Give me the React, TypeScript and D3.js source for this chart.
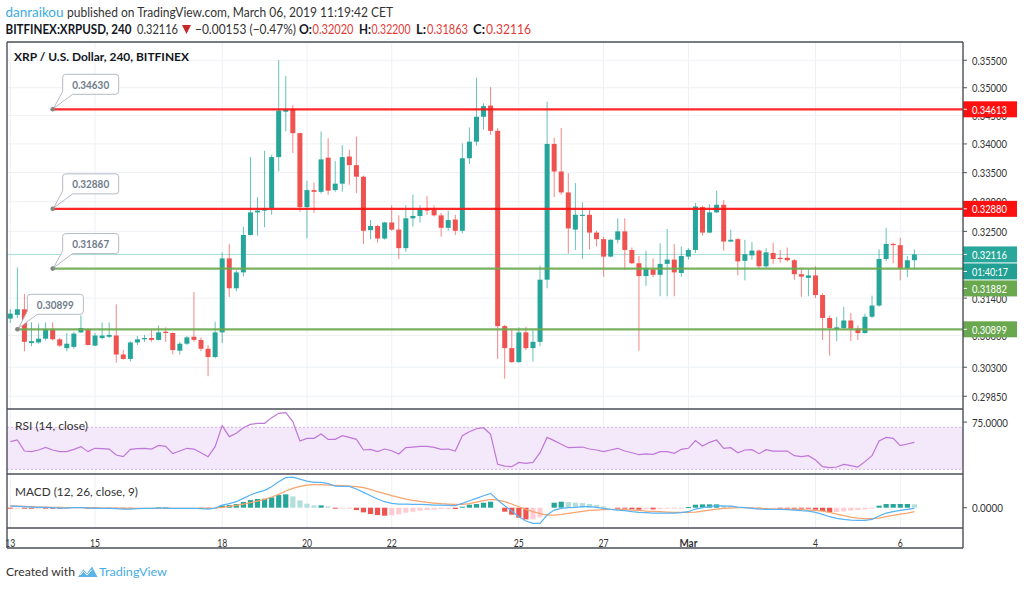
import React from 'react';
import * as d3 from 'd3';

// ---------- DATA ----------
const T0 = Date.UTC(2019, 1, 13, 0, 0);
const BAR_MS = 4 * 3600 * 1000;

const opens = [0.3107,0.3113,0.3122,0.3068,0.3069,0.3075,0.3090,0.3074,0.3060,0.3062,
 0.3085,0.3090,0.3064,0.3076,0.3078,0.3080,0.3050,0.3043,0.3069,0.3074,
 0.3076,0.3073,0.3086,0.3084,0.3056,0.3067,0.3078,0.3073,0.3059,0.3046,
 0.3085,0.3205,0.3156,0.3182,0.3244,0.3282,0.3285,0.3289,0.3377,0.3457,
 0.3461,0.3419,0.3291,0.3320,0.3317,0.3376,0.3320,0.3331,0.3378,0.3363,
 0.3343,0.3252,0.3259,0.3238,0.3265,0.3253,0.3222,0.3272,0.3276,0.3288,
 0.3287,0.3277,0.3256,0.3270,0.3251,0.3375,0.3404,0.3448,0.3468,0.3423,
 0.3095,0.3060,0.3038,0.3085,0.3060,0.3070,0.3170,0.3400,0.3352,0.3316,
 0.3253,0.3276,0.3278,0.3248,0.3237,0.3208,0.3236,0.3250,0.3219,0.3197,
 0.3176,0.3187,0.3178,0.3196,0.3203,0.3181,0.3208,0.3219,0.3291,0.3248,
 0.3282,0.3295,0.3233,0.3237,0.3201,0.3210,0.3218,0.3192,0.3214,0.3206,
 0.3206,0.3202,0.3179,0.3173,0.3177,0.3145,0.3108,0.3090,0.3092,0.3104,
 0.3091,0.3084,0.3110,0.3128,0.3204,0.3229,0.3227,0.3189,0.3202];

const highs = [0.3122,0.3190,0.3147,0.3101,0.3099,0.3101,0.3101,0.3076,0.3084,0.3086,
 0.3112,0.3091,0.3084,0.3101,0.3101,0.3130,0.3057,0.3071,0.3079,0.3081,
 0.3089,0.3096,0.3093,0.3085,0.3070,0.3079,0.3150,0.3077,0.3065,0.3102,
 0.3215,0.3229,0.3186,0.3258,0.3377,0.3308,0.3388,0.3381,0.3550,0.3521,
 0.3469,0.3420,0.3336,0.3333,0.3422,0.3410,0.3370,0.3398,0.3390,0.3413,
 0.3345,0.3269,0.3261,0.3266,0.3294,0.3277,0.3294,0.3312,0.3294,0.3310,
 0.3294,0.3281,0.3285,0.3278,0.3401,0.3429,0.3518,0.3472,0.3501,0.3428,
 0.3097,0.3090,0.3093,0.3094,0.3089,0.3193,0.3475,0.3411,0.3428,0.3349,
 0.3332,0.3299,0.3286,0.3251,0.3241,0.3237,0.3272,0.3272,0.3223,0.3209,
 0.3218,0.3205,0.3230,0.3254,0.3229,0.3225,0.3222,0.3298,0.3293,0.3296,
 0.3319,0.3303,0.3253,0.3239,0.3236,0.3232,0.3220,0.3222,0.3231,0.3219,
 0.3223,0.3204,0.3190,0.3187,0.3192,0.3148,0.3112,0.3110,0.3126,0.3116,
 0.3096,0.3115,0.3144,0.3220,0.3256,0.3231,0.3239,0.3209,0.3220];

const lows = [0.3100,0.3108,0.3055,0.3063,0.3067,0.3072,0.3072,0.3062,0.3055,0.3059,
 0.3084,0.3064,0.3063,0.3074,0.3076,0.3037,0.3042,0.3039,0.3065,0.3070,
 0.3070,0.3072,0.3070,0.3050,0.3050,0.3065,0.3070,0.3055,0.3016,0.3044,
 0.3068,0.3142,0.3151,0.3175,0.3243,0.3243,0.3257,0.3278,0.3352,0.3422,
 0.3384,0.3283,0.3238,0.3281,0.3314,0.3312,0.3317,0.3317,0.3329,0.3315,
 0.3229,0.3237,0.3231,0.3236,0.3251,0.3204,0.3216,0.3258,0.3265,0.3278,
 0.3275,0.3241,0.3251,0.3244,0.3247,0.3365,0.3397,0.3425,0.3416,0.3043,
 0.3012,0.3037,0.3037,0.3057,0.3039,0.3063,0.3156,0.3308,0.3312,0.3213,
 0.3219,0.3204,0.3220,0.3225,0.3175,0.3207,0.3230,0.3186,0.3196,0.3056,
 0.3160,0.3174,0.3143,0.3143,0.3143,0.3175,0.3203,0.3214,0.3243,0.3247,
 0.3281,0.3218,0.3232,0.3177,0.3169,0.3203,0.3188,0.3189,0.3196,0.3198,
 0.3200,0.3170,0.3142,0.3143,0.3140,0.3073,0.3048,0.3071,0.3089,0.3071,
 0.3073,0.3083,0.3108,0.3126,0.3200,0.3197,0.3169,0.3174,0.31863];

const closes = [0.3115,0.3122,0.3070,0.3071,0.3075,0.3090,0.3074,0.3064,0.3067,0.3083,
 0.3092,0.3065,0.3080,0.3080,0.3081,0.3050,0.3043,0.3069,0.3074,0.3076,
 0.3073,0.3085,0.3084,0.3057,0.3067,0.3077,0.3073,0.3059,0.3046,0.3085,
 0.3205,0.3156,0.3182,0.3244,0.3282,0.3285,0.3289,0.3377,0.3459,0.3461,
 0.3419,0.3291,0.3320,0.3317,0.3373,0.3319,0.3331,0.3377,0.3363,0.3343,
 0.3251,0.3259,0.3238,0.3265,0.3253,0.3222,0.3272,0.3276,0.3287,0.3285,
 0.3277,0.3256,0.3269,0.3251,0.3375,0.3404,0.3448,0.3467,0.3423,0.3095,
 0.3060,0.3038,0.3085,0.3060,0.3070,0.3170,0.3400,0.3352,0.3316,0.3255,
 0.3278,0.3278,0.3248,0.3237,0.3208,0.3236,0.3250,0.3219,0.3197,0.3176,
 0.3189,0.3178,0.3196,0.3203,0.3182,0.3209,0.3219,0.3292,0.3248,0.3282,
 0.3295,0.3233,0.3236,0.3200,0.3212,0.3218,0.3192,0.3215,0.3204,0.3204,
 0.3202,0.3179,0.3175,0.3177,0.3145,0.3108,0.3092,0.3093,0.3104,0.3091,
 0.3084,0.3110,0.3128,0.3204,0.3229,0.3227,0.3189,0.3202,0.32116];

const rsiValues = [56.3,57.9,47.4,46.8,48.4,50.9,48.4,46.8,46.8,49.0,
 51.6,46.8,50.0,49.7,49.3,43.6,42.0,49.0,49.7,50.0,
 49.3,52.8,51.9,44.9,47.4,50.0,49.3,45.8,42.0,51.6,
 71.6,61.1,64.3,69.6,72.8,73.8,73.8,79.2,83.3,83.9,
 75.4,57.0,59.5,59.5,63.6,58.5,58.5,62.0,60.4,58.5,
 48.4,49.0,46.8,49.3,47.7,44.6,50.6,51.2,51.9,51.9,
 50.9,49.0,49.3,47.4,62.0,65.8,68.6,69.6,63.3,34.7,
 33.1,32.5,36.6,35.7,36.6,45.8,60.4,57.3,53.8,50.6,
 50.9,51.2,49.3,48.4,46.8,48.4,50.0,47.4,45.8,43.9,
 44.6,44.3,46.8,46.8,45.2,49.0,50.0,57.3,52.2,55.7,
 57.9,50.0,50.6,45.8,48.4,48.7,44.9,48.7,47.4,47.4,
 47.4,43.0,42.0,43.0,38.9,32.5,31.6,32.2,34.7,33.5,
 32.2,37.3,43.0,57.0,60.4,59.5,52.5,54.1,55.7];

const macdValues = [0.00033,0.00027,0.0002,0.00013,0.00007,0.00007,0,-0.00007,-0.00007,0,
 0,-0.00007,-0.00007,-0.00013,-0.00013,-0.0002,-0.00027,-0.00027,-0.0002,-0.00013,
 -0.00013,-0.00007,-0.00007,-0.00013,-0.00013,-0.00013,-0.00013,-0.0002,-0.00027,-0.00007,
 0.00053,0.0008,0.0012,0.00187,0.00253,0.00307,0.00347,0.0042,0.0052,0.006,
 0.00613,0.00573,0.00533,0.00507,0.00507,0.0048,0.00433,0.00427,0.00427,0.00373,
 0.00307,0.0024,0.00173,0.0012,0.00087,0.00073,0.00073,0.00067,0.00067,0.0006,
 0.00053,0.00053,0.00047,0.0004,0.00087,0.0014,0.00187,0.0024,0.00287,0.00153,
 0.0004,-0.00067,-0.0018,-0.00267,-0.00313,-0.00313,-0.00147,-0.00047,-0.00013,0,
 0.00007,0.0002,0.0002,0.00007,-0.00013,-0.00033,-0.00047,-0.0006,-0.0008,-0.00093,
 -0.001,-0.00107,-0.00107,-0.00107,-0.00107,-0.001,-0.0008,-0.00027,0,0.0002,
 0.0004,0.00033,0.00033,0.00013,0,-0.00013,-0.00027,-0.00033,-0.00033,-0.00033,
 -0.0004,-0.00047,-0.0006,-0.00067,-0.00093,-0.00133,-0.0018,-0.00213,-0.00233,-0.00247,
 -0.00253,-0.00253,-0.00233,-0.00167,-0.00107,-0.0008,-0.00053,-0.00033,-0.00013];

const signalValues = [0.0004,0.00033,0.00027,0.0002,0.00013,0.00013,0.00007,0.00007,0,0,
 0,0,0,-0.00007,-0.00007,-0.00007,-0.00013,-0.00013,-0.00013,-0.00013,
 -0.00013,-0.00013,-0.00013,-0.00013,-0.00013,-0.00013,-0.00013,-0.00013,-0.00013,-0.00007,
 0.00007,0.00027,0.00047,0.00073,0.001,0.00133,0.00167,0.00213,0.00267,0.00333,
 0.00387,0.00427,0.00453,0.0046,0.0046,0.00453,0.00447,0.0044,0.00433,0.0042,
 0.004,0.00367,0.0032,0.0028,0.0024,0.00207,0.00173,0.00147,0.00127,0.00107,
 0.00093,0.0008,0.00073,0.00067,0.00067,0.0008,0.00113,0.0014,0.00167,0.00153,
 0.0012,0.00073,0.0002,-0.00033,-0.0008,-0.0012,-0.00147,-0.00147,-0.00133,-0.00113,
 -0.00093,-0.00073,-0.00053,-0.00047,-0.0004,-0.00033,-0.00033,-0.0004,-0.00047,-0.00053,
 -0.00067,-0.00073,-0.0008,-0.00087,-0.00093,-0.00093,-0.00093,-0.00087,-0.00067,-0.00047,
 -0.00027,-0.00013,-0.00007,0,0,-0.00007,-0.00013,-0.0002,-0.00027,-0.00027,
 -0.00027,-0.00033,-0.0004,-0.00047,-0.00053,-0.00067,-0.00093,-0.00127,-0.0016,-0.00187,
 -0.00207,-0.0022,-0.0022,-0.00207,-0.0018,-0.00153,-0.00127,-0.00107,-0.0008];

const histValues = [-0.00007,-0.00006,-0.00007,-0.00007,-0.00006,-0.00006,-0.00007,-0.00014,-0.00007,0,
 0,-0.00007,-0.00007,-0.00006,-0.00006,-0.00013,-0.00014,-0.00014,-0.00007,0,
 0,0.00006,0.00006,0,0,0,0,-0.00007,-0.00014,0,
 0.00046,0.00053,0.00073,0.00114,0.00153,0.00174,0.0018,0.00207,0.00253,0.00267,
 0.00226,0.00146,0.0008,0.00047,0.00047,0.00027,-0.00014,-0.00013,-0.00006,-0.00047,
 -0.00093,-0.00127,-0.00147,-0.0016,-0.00153,-0.00134,-0.001,-0.0008,-0.0006,-0.00047,
 -0.0004,-0.00027,-0.00026,-0.00027,0.0002,0.0006,0.00074,0.001,0.0012,0,
 -0.0008,-0.0014,-0.002,-0.00234,-0.00233,-0.00193,0,0.001,0.0012,0.00113,
 0.001,0.00093,0.00073,0.00054,0.00027,0,-0.00014,-0.0002,-0.00033,-0.0004,
 -0.00033,-0.00034,-0.00027,-0.0002,-0.00014,-0.00007,0.00013,0.0006,0.00067,0.00067,
 0.00067,0.00046,0.0004,0.00013,0,-0.00006,-0.00014,-0.00013,-0.00006,-0.00006,
 -0.00013,-0.00014,-0.0002,-0.0002,-0.0004,-0.00066,-0.00087,-0.00086,-0.00073,-0.0006,
 -0.00046,-0.00033,-0.00013,0.0004,0.00073,0.00073,0.00074,0.00074,0.00067];

const priceTicks = [0.355, 0.35, 0.345, 0.34, 0.335, 0.33, 0.325, 0.314, 0.308, 0.303, 0.2985];
const dateTickDays = ['2019-02-13','2019-02-15','2019-02-18','2019-02-20','2019-02-22','2019-02-25','2019-02-27','2019-03-01','2019-03-04','2019-03-06'];
const dateTickLabels = ['13','15','18','20','22','25','27','Mar','4','6'];

const levelPrices = [0.34613, 0.3288, 0.31882, 0.30899];
const levelNotes = ['0.34630', '0.32880', '0.31867', '0.30899'];
const levelStartBars = [6, 6, 6, 1];
const levelKinds = ['resistance', 'resistance', 'support', 'support'];

const lastPrice = 0.32116;
const countdownText = '01:40:17';
const rsiAxisValue = 75;

// ---------- LAYOUT ----------
const L = 7, R = 963, AXR = 1017;
const P_TOP = 42, P_BOT = 409, RSI_BOT = 474, M_BOT = 528, T_BOT = 548;
const UP = '#26a69a', DOWN = '#ef5350';
const RES = '#ff1010', SUP = '#6aa84f';
const FONT = "Lato, 'Open Sans', sans-serif";

const x = d3.scaleTime()
  .domain([new Date(T0), new Date(T0 + 128 * BAR_MS)])
  .range([10.3, 914.4]);
const yP = d3.scaleLog().domain([0.34613, 0.30899]).range([109.3, 329.3]);
const yR = d3.scaleLinear().domain([70, 30]).range([427.3, 469.3]);
const yM = d3.scaleLinear().domain([0, 0.006]).range([507.7, 477.7]);

const barTime = (i: number) => new Date(T0 + i * BAR_MS);
const fmt5 = d3.format('.5f');

function Txt(p: any) {
  const { x, y, text, w, size = 11, fill = '#333', weight = 'normal', anchor = 'start' } = p;
  return (
    <text x={x} y={y} fontSize={size} fill={fill} fontWeight={weight} textAnchor={anchor}
      dominantBaseline="central" textLength={w} lengthAdjust="spacingAndGlyphs">{text}</text>
  );
}

function Callout({ dx, dy, text }: { dx: number; dy: number; text: string }) {
  const bx = dx + 10, by = dy - 35, w = 56, h = 20, r = 3;
  const d = `M${bx + r},${by} H${bx + w - r} Q${bx + w},${by} ${bx + w},${by + r} V${by + h - r} Q${bx + w},${by + h} ${bx + w - r},${by + h} H${bx + 10} L${dx + 1},${dy - 1} L${bx},${by + h - 3} V${by + r} Q${bx},${by} ${bx + r},${by} Z`;
  return (
    <g>
      <path d={d} fill="#fff" stroke="#b5bac2" strokeWidth={1} />
      <Txt x={bx + w / 2} y={by + h / 2} text={text} w={37} anchor="middle" fill="#6f7c8b" weight="bold" />
      <circle cx={dx} cy={dy} r={2.3} fill="#858585" />
    </g>
  );
}

function AxisBox({ y, text, fill, w = 35 }: { y: number; text: string; fill: string; w?: number }) {
  return (
    <g>
      <rect x={R} y={y - 8} width={AXR - R} height={16} fill={fill} />
      <line x1={R} x2={R + 4} y1={y} y2={y} stroke="#fff" />
      <Txt x={972} y={y} text={text} w={w} fill="#fff" />
    </g>
  );
}

export default function App() {
  const rsiLine = d3.line<number>().x((_, i) => x(barTime(i))).y((d) => yR(d));
  const macdLine = d3.line<number>().x((_, i) => x(barTime(i))).y((d) => yM(d));
  const lastY = yP(lastPrice);

  return (
    <svg width={1024} height={589} style={{ position: 'absolute', left: 0, top: 0, background: '#fff', fontFamily: FONT }}>
      <defs>
        <clipPath id="cp"><rect x={L} y={P_TOP} width={R - L} height={P_BOT - P_TOP} /></clipPath>
        <clipPath id="cr"><rect x={L} y={P_BOT} width={R - L} height={RSI_BOT - P_BOT} /></clipPath>
        <clipPath id="cm"><rect x={L} y={RSI_BOT} width={R - L} height={M_BOT - RSI_BOT} /></clipPath>
      </defs>

      {/* header */}
      <Txt x={5.5} y={12} text="danraikou" w={58} size={13} fill="#3cabe0" />
      <Txt x={67} y={12} text="published on TradingView.com, March 06, 2019 11:19:42 CET" w={326} size={13} fill="#333" />
      <Txt x={5.5} y={29} text="BITFINEX:XRPUSD, 240" w={126} size={13} fill="#131722" weight="bold" />
      <Txt x={137} y={29} text="0.32116" w={41} size={13} fill="#333" />
      <path d="M182,25 L191,25 L186.5,34 Z" fill="#c62828" />
      <Txt x={195} y={29} text="−0.00153 (−0.47%)" w={101} size={13} fill="#333" />
      <Txt x={299} y={29} text="O:" w={13} size={13} fill="#131722" weight="bold" />
      <Txt x={312.5} y={29} text="0.32020" w={41} size={13} fill="#e23b36" />
      <Txt x={359} y={29} text="H:" w={12} size={13} fill="#131722" weight="bold" />
      <Txt x={371.5} y={29} text="0.32200" w={39} size={13} fill="#e23b36" />
      <Txt x={416} y={29} text="L:" w={10} size={13} fill="#131722" weight="bold" />
      <Txt x={427} y={29} text="0.31863" w={41} size={13} fill="#e23b36" />
      <Txt x={473} y={29} text="C:" w={12} size={13} fill="#131722" weight="bold" />
      <Txt x={486} y={29} text="0.32116" w={45} size={13} fill="#e23b36" />

      {/* grids */}
      {dateTickDays.map((d, k) => {
        const gx = x(new Date(d + 'T00:00:00Z'));
        return <line key={'vg' + k} x1={gx} x2={gx} y1={P_TOP} y2={M_BOT} stroke="#edf0f5" strokeWidth={1} />;
      })}
      {priceTicks.map((p, k) => (
        <line key={'hg' + k} x1={L} x2={R} y1={yP(p)} y2={yP(p)} stroke="#edf0f5" strokeWidth={1} />
      ))}

      {/* price pane */}
      <g clipPath="url(#cp)">
        <line x1={L} x2={R} y1={lastY} y2={lastY} stroke="#a7dcd6" strokeWidth={1} />
        {opens.map((o, i) => {
          const c = closes[i];
          const up = c >= o;
          const col = up ? UP : DOWN;
          const cx = x(barTime(i));
          const yt = yP(Math.max(o, c));
          const yb = yP(Math.min(o, c));
          return (
            <g key={'c' + i}>
              <line x1={cx} x2={cx} y1={yP(highs[i])} y2={yP(lows[i])} stroke={col} strokeOpacity={0.7} strokeWidth={1} />
              <rect x={cx - 2.5} width={5} y={yt} height={Math.max(1, yb - yt)} fill={col} />
            </g>
          );
        })}
        {levelPrices.map((p, k) => {
          const lx = x(barTime(levelStartBars[k]));
          return (
            <line key={'lv' + k} x1={lx} x2={R} y1={yP(p)} y2={yP(p)}
              stroke={levelKinds[k] === 'resistance' ? RES : SUP} strokeWidth={2.2} strokeOpacity={0.9} />
          );
        })}
        {levelPrices.map((p, k) => (
          <Callout key={'co' + k} dx={x(barTime(levelStartBars[k]))} dy={yP(p)} text={levelNotes[k]} />
        ))}
      </g>
      <Txt x={14} y={56.7} text="XRP / U.S. Dollar, 240, BITFINEX" w={175} size={12} fill="#131722" weight="bold" />

      {/* RSI pane */}
      <g clipPath="url(#cr)">
        <rect x={L} y={yR(70)} width={R - L} height={yR(30) - yR(70)} fill="#f4e8fb" />
        <line x1={L} x2={R} y1={yR(70)} y2={yR(70)} stroke="#d2b3e3" strokeDasharray="2,2" />
        <line x1={L} x2={R} y1={yR(30)} y2={yR(30)} stroke="#d2b3e3" strokeDasharray="2,2" />
        <path d={rsiLine(rsiValues) || ''} fill="none" stroke="#bf77da" strokeWidth={1.2} />
      </g>
      <Txt x={15} y={425.7} text="RSI (14, close)" w={73} size={12} fill="#333" />

      {/* MACD pane */}
      <g clipPath="url(#cm)">
        {histValues.map((v, i) => {
          if (v === 0) return null;
          const prev = i > 0 ? histValues[i - 1] : 0;
          const col = v > 0 ? (v >= prev ? '#26a69a' : '#b2dfdb') : (v <= prev ? '#ef5350' : '#ffcdd2');
          const cx = x(barTime(i));
          const y0 = yM(0), y1 = yM(v);
          return <rect key={'h' + i} x={cx - 2.6} width={5.2} y={Math.min(y0, y1)} height={Math.max(1, Math.abs(y1 - y0))} fill={col} />;
        })}
        <path d={macdLine(signalValues) || ''} fill="none" stroke="#f9a46c" strokeWidth={1.2} />
        <path d={macdLine(macdValues) || ''} fill="none" stroke="#58b3f4" strokeWidth={1.2} />
      </g>
      <Txt x={15} y={491} text="MACD (12, 26, close, 9)" w={123} size={12} fill="#333" />

      {/* time axis */}
      {dateTickDays.map((d, k) => {
        const gx = x(new Date(d + 'T00:00:00Z'));
        const lab = dateTickLabels[k];
        const w = lab === 'Mar' ? 18 : lab.length === 1 ? 5 : 10;
        return <Txt key={'tl' + k} x={gx} y={542.3} text={lab} w={w} anchor="middle" fill="#333" weight={lab === 'Mar' ? 'bold' : 'normal'} />;
      })}

      {/* right axis */}
      {priceTicks.map((p, k) => (
        <g key={'pt' + k}>
          <line x1={R} x2={R + 4} y1={yP(p)} y2={yP(p)} stroke="#555" />
          <Txt x={972} y={yP(p)} text={fmt5(p)} w={35} fill="#333" />
        </g>
      ))}
      <line x1={R} x2={R + 4} y1={yR(rsiAxisValue)} y2={yR(rsiAxisValue)} stroke="#555" />
      <Txt x={972} y={yR(rsiAxisValue)} text={rsiAxisValue.toFixed(4)} w={36} fill="#333" />
      <line x1={R} x2={R + 4} y1={yM(0)} y2={yM(0)} stroke="#555" />
      <Txt x={972} y={yM(0)} text={(0).toFixed(4)} w={31} fill="#333" />

      <AxisBox y={yP(levelPrices[0])} text={fmt5(levelPrices[0])} fill={RES} />
      <AxisBox y={yP(levelPrices[1])} text={fmt5(levelPrices[1])} fill={RES} />
      <AxisBox y={lastY} text={fmt5(lastPrice)} fill="#2aa79b" />
      <AxisBox y={lastY + 17} text={countdownText} fill="#23a094" w={36} />
      <AxisBox y={lastY + 34} text={fmt5(levelPrices[2])} fill={SUP} />
      <AxisBox y={yP(levelPrices[3])} text={fmt5(levelPrices[3])} fill={SUP} />

      {/* frame */}
      <g stroke="#4b4e57" strokeWidth={1.4} fill="none">
        <line x1={L} x2={L} y1={P_TOP} y2={T_BOT} />
        <line x1={R} x2={R} y1={P_TOP} y2={T_BOT} />
        <line x1={L} x2={R} y1={P_TOP} y2={P_TOP} />
        <line x1={L} x2={R} y1={P_BOT} y2={P_BOT} />
        <line x1={L} x2={R} y1={RSI_BOT} y2={RSI_BOT} />
        <line x1={L} x2={R} y1={M_BOT} y2={M_BOT} />
        <line x1={L} x2={R} y1={T_BOT} y2={T_BOT} />
      </g>

      {/* footer */}
      <Txt x={6} y={571.7} text="Created with" w={69} size={12} fill="#333" />
      <path d="M78,577 L83.5,569.5 L87,573.5 L92,566.5 L97.5,577 Z" fill="#5ab4e8" />
      <path d="M80,575 L83.5,571.5 L87,575 L92,569.5" fill="none" stroke="#fff" strokeWidth={1} />
      <Txt x={99} y={571.7} text="TradingView" w={68} size={12} fill="#46ace6" />
    </svg>
  );
}
